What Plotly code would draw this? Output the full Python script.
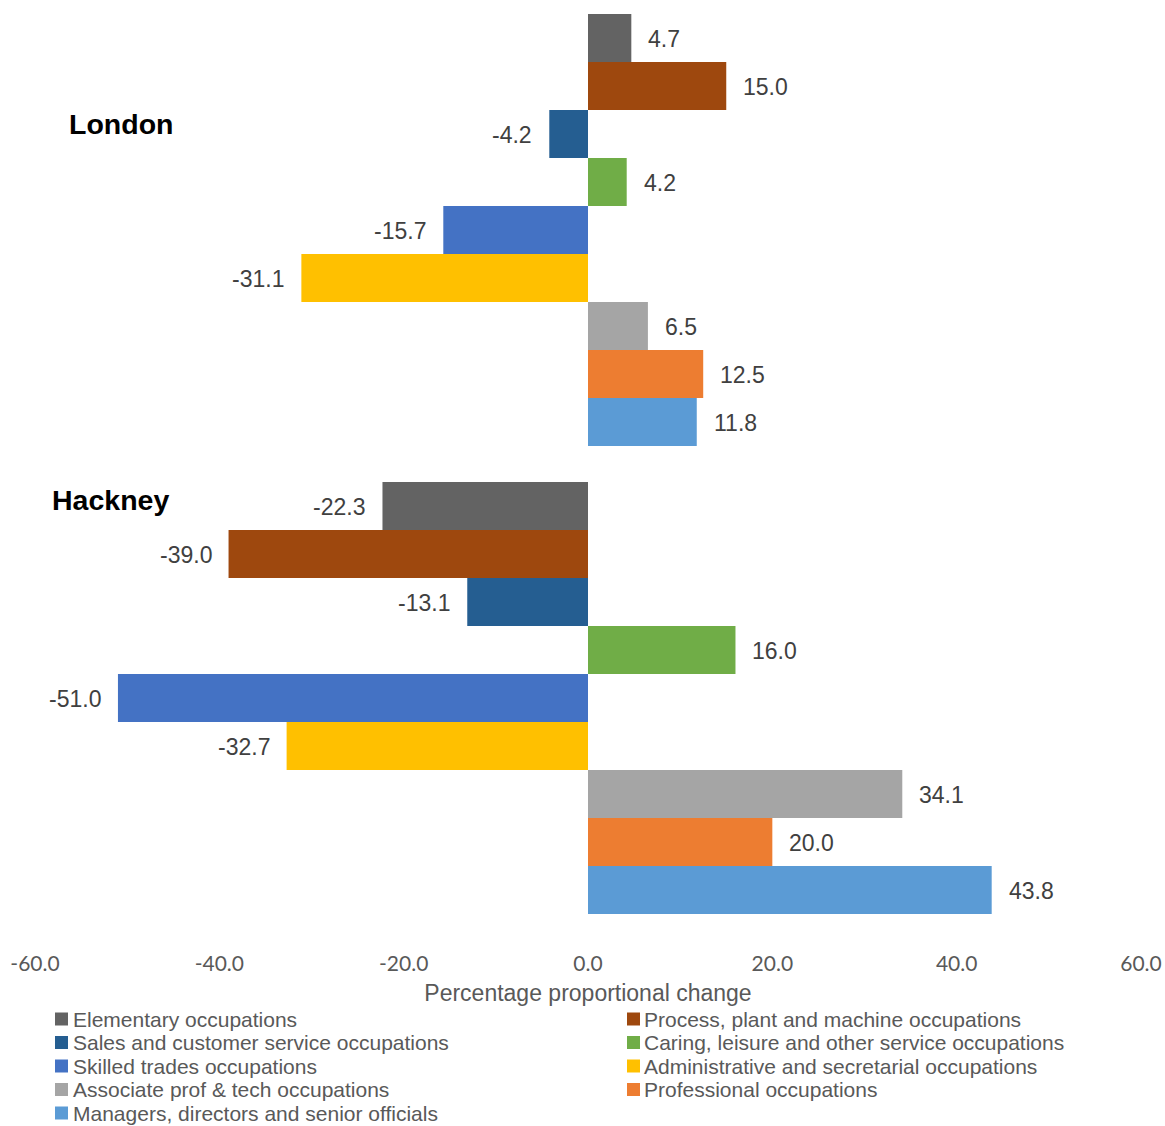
import plotly.graph_objects as go

# Occupational groups (series) and their colours
occupations = [
    "Elementary occupations",
    "Process, plant and machine occupations",
    "Sales and customer service occupations",
    "Caring, leisure and other service occupations",
    "Skilled trades occupations",
    "Administrative and secretarial occupations",
    "Associate prof & tech occupations",
    "Professional occupations",
    "Managers, directors and senior officials",
]
colors = [
    "#636363", "#9E480E", "#255E91", "#70AD47", "#4472C4",
    "#FFC000", "#A5A5A5", "#ED7D31", "#5B9BD5",
]

areas = ["London", "Hackney"]

# Percentage proportional change per occupation
london_change = [4.7, 15.0, -4.2, 4.2, -15.7, -31.1, 6.5, 12.5, 11.8]
hackney_change = [-22.3, -39.0, -13.1, 16.0, -51.0, -32.7, 34.1, 20.0, 43.8]

x_ticks = [-60, -40, -20, 0, 20, 40, 60]

W, H = 1165, 1126
M_L, M_R, M_T, M_B = 35, 24, 0, 194
PLOT_H = H - M_T - M_B
PLOT_W = W - M_L - M_R
BAR_PX = 48  # height of one bar in pixels


def px_x(p):
    return (p - M_L) / PLOT_W


def px_y(p):
    return (M_T + PLOT_H - p) / PLOT_H


ARIAL = "Liberation Sans"
TXT = "#404040"
GREY = "#595959"

fig = go.Figure()
annotations = []
shapes = []

for i, name in enumerate(occupations):
    vals = [london_change[i], hackney_change[i]]
    fig.add_trace(go.Bar(
        name=name,
        orientation="h",
        y=areas,
        x=vals,
        marker=dict(color=colors[i], line=dict(width=0)),
        showlegend=False,
        hovertemplate="%{y}: %{x:.1f}<extra>" + name + "</extra>",
    ))
    # value labels beside each bar
    for area, v in zip(areas, vals):
        annotations.append(dict(
            x=v, y=area, xref="x", yref="y",
            text=f"{v:.1f}", showarrow=False,
            xanchor="left" if v >= 0 else "right",
            xshift=15 if v >= 0 else -15,
            yshift=(4 - i) * BAR_PX - 1,
            font=dict(family=ARIAL, size=23, color=TXT),
        ))

# area headings
for label, xp, yp in [("London", 67, 124), ("Hackney", 50, 500)]:
    annotations.append(dict(
        x=px_x(xp), y=px_y(yp), xref="paper", yref="paper",
        text=f"<b>{label}</b>", showarrow=False,
        xanchor="left", yanchor="middle",
        font=dict(family=ARIAL, size=28.5, color="#000000"),
    ))

# two-column legend below the axis
row_y = [1019, 1042.5, 1066, 1089.5, 1113]
col_marker_x = [55, 627]
col_text_x = [72, 643]
SQ = 13
for i, name in enumerate(occupations):
    r, c = divmod(i, 2)
    cy = row_y[r]
    mx = col_marker_x[c]
    shapes.append(dict(
        type="rect", xref="paper", yref="paper",
        x0=px_x(mx), x1=px_x(mx + SQ),
        y0=px_y(cy + SQ / 2), y1=px_y(cy - SQ / 2),
        fillcolor=colors[i], line=dict(width=0),
    ))
    annotations.append(dict(
        x=px_x(col_text_x[c]), y=px_y(cy), xref="paper", yref="paper",
        text=name, showarrow=False, xanchor="left", yanchor="middle",
        borderpad=0,
        font=dict(family=ARIAL, size=21, color=GREY),
    ))

fig.update_layout(
    width=W, height=H,
    margin=dict(l=M_L, r=M_R, t=M_T, b=M_B, pad=0),
    paper_bgcolor="white", plot_bgcolor="white",
    barmode="group", bargap=36 / 468, bargroupgap=0,
    showlegend=False,
    annotations=annotations,
    shapes=shapes,
    xaxis=dict(
        range=[-60, 60],
        tickvals=x_ticks,
        ticktext=[f"{t:.1f}" for t in x_ticks],
        showgrid=False, zeroline=False, showline=False,
        ticks="", ticklabelstandoff=17,
        tickfont=dict(family="Lato", size=21, color=GREY),
        title=dict(text="Percentage proportional change",
                   font=dict(family=ARIAL, size=23, color=GREY),
                   standoff=10),
    ),
    yaxis=dict(
        type="category",
        categoryorder="array", categoryarray=areas,
        range=[1.5, -0.5 + 4 / 468],
        showticklabels=False, showgrid=False, zeroline=False, showline=False,
        ticks="",
    ),
)

fig.write_html("out.html")
